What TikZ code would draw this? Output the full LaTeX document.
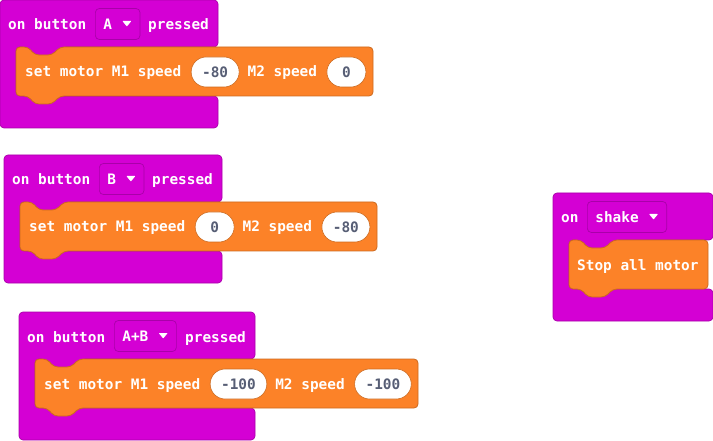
\documentclass[tikz,border=0pt]{standalone}
\usepackage{fontspec}
\newfontfamily\blockfont{DejaVu Sans Mono Bold}
\usetikzlibrary{calc}

\definecolor{evtpurple}{HTML}{D400D4}
\definecolor{evtedge}{HTML}{A900A9}
\definecolor{motororange}{HTML}{FC8228}
\definecolor{motoredge}{HTML}{CC6A1F}
\definecolor{pilltext}{HTML}{575E75}

\tikzset{
  blockfont/.style={font=\blockfont\fontsize{14.4}{17}\selectfont},
  evtbody/.style={fill=evtpurple, draw=evtedge, line width=0.7pt, rounded corners=4pt},
  motorbody/.style={fill=motororange, draw=motoredge, line width=0.8pt, rounded corners=4pt},
  lbl/.style={blockfont, text=white, inner sep=0pt, anchor=base west},
  dropbox/.style={blockfont, text=white, fill=evtpurple, draw=evtedge, line width=0.7pt,
    rounded corners=4pt, minimum height=31pt, inner xsep=8pt, inner ysep=0pt,
    text height=10.5pt, text depth=0pt, anchor=west},
  droptri/.style={fill=white, rounded corners=0.6pt},
  pill/.style={blockfont, text=pilltext, fill=white, draw=motoredge, line width=0.6pt,
    rounded corners=15pt, minimum height=30pt, minimum width=39pt, inner xsep=11pt,
    inner ysep=0pt, text height=10.5pt, text depth=0pt, anchor=west},
}

% room for the dropdown arrow after the key name
\newcommand{\arrowroom}{\kern20pt\relax}

% purple event block: C-shaped body (left, top, right)
\newcommand{\eventframe}[3]{%
  \draw[evtbody] (#1,#2+20) -- (#1,#2) -- (#3,#2) -- (#3,#2+47)
    -- (#1+62,#2+47) -- (#1+54,#2+56) -- (#1+33,#2+56) -- (#1+26,#2+47)
    -- (#1+16,#2+47) -- (#1+16,#2+96) -- (#3,#2+96) -- (#3,#2+128)
    -- (#1,#2+128) -- cycle;}

% orange statement block with top notch and bottom tab (left, top, right)
\newcommand{\motorframe}[3]{%
  \draw[motorbody] (#1,#2+20) -- (#1,#2) -- (#1+12,#2) -- (#1+19,#2+8)
    -- (#1+36,#2+8) -- (#1+44,#2) -- (#3,#2) -- (#3,#2+49)
    -- (#1+44,#2+49) -- (#1+36,#2+57) -- (#1+19,#2+57) -- (#1+12,#2+49)
    -- (#1,#2+49) -- cycle;}

% dropdown arrow inside a dropdown node
\newcommand{\droparrow}[1]{%
  \fill[droptri] ($(#1.east)+(-18,-3)$) -- ++(9,0) -- ++(-4.5,5.5) -- cycle;}

% "set motor M1 speed (a) M2 speed (b)" row (name, left, top, right, a, b)
\newcommand{\motorrow}[6]{%
  \motorframe{#2}{#3}{#4}
  \node[lbl] (#1-set) at (#2+9,#3+30) {set motor M1 speed};
  \node[pill] (#1-p1) at ($(#1-set.base east)+(9.4,-5)$) {#5};
  \node[lbl] (#1-m2) at ($(#1-p1.east)+(8,5)$) {M2 speed};
  \node[pill] (#1-p2) at ($(#1-m2.base east)+(9.4,-5)$) {#6};}

\begin{document}
\begin{tikzpicture}[x=1pt, y=-1pt]
  \useasboundingbox (0,0) rectangle (713,441);

  % on button A pressed
  \eventframe{0}{0}{218}
  \node[lbl] (a-on) at (8,30) {on button};
  \node[dropbox] (a-dd) at (95,24) {A\arrowroom};
  \droparrow{a-dd}
  \node[lbl] (a-pr) at (148,30) {pressed};
  \motorrow{a}{16}{47}{373}{-80}{0}

  % on button B pressed
  \eventframe{4}{155}{222}
  \node[lbl] (b-on) at (12,185) {on button};
  \node[dropbox] (b-dd) at (99,179) {B\arrowroom};
  \droparrow{b-dd}
  \node[lbl] (b-pr) at (152,185) {pressed};
  \motorrow{b}{20}{202}{377}{0}{-80}

  % on button A+B pressed
  \eventframe{19}{312}{255}
  \node[lbl] (c-on) at (27,342) {on button};
  \node[dropbox] (c-dd) at (114,336) {A+B\arrowroom};
  \droparrow{c-dd}
  \node[lbl] (c-pr) at (185,342) {pressed};
  \motorrow{c}{35}{359}{418}{-100}{-100}

  % on shake
  \eventframe{553}{193}{713}
  \node[lbl] (d-on) at (561,223) {on};
  \node[dropbox] (d-dd) at (587,217) {shake\arrowroom};
  \droparrow{d-dd}
  \motorframe{569}{240}{708}
  \node[lbl] (d-stop) at (577,270) {Stop all motor};
\end{tikzpicture}
\end{document}
